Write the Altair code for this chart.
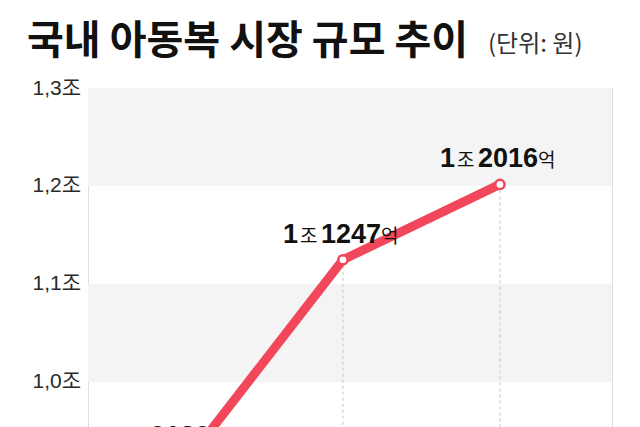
import pandas as pd
import altair as alt

# ------------------------------
#   DATA (단위: 조 원)
# ------------------------------
years = [2015, 2016, 2017]
market = [0.918, 1.1247, 1.2016]
label_jo = ["", "1", "1"]          # 조 part
label_jo_unit = ["", "조", "조"]
label_eok = ["9180", "1247", "2016"]  # 억 part

band_lo = [1.0, 1.2]
band_hi = [1.1, 1.3]
y_ticks = [1.0, 1.1, 1.2, 1.3]

RED = "#f2475a"
KR = "Noto Sans CJK KR"
NUM = "Liberation Sans, Noto Sans CJK KR"

W = 524
H = 339

df = pd.DataFrame({
    "year": years,
    "value": market,
    "jo": label_jo,
    "jo_unit": label_jo_unit,
    "eok": label_eok,
})
bands_df = pd.DataFrame({"lo": band_lo, "hi": band_hi})

yscale = alt.Scale(domain=[0.954, 1.3], nice=False, zero=False)
xscale = alt.Scale(domain=[2014.376, 2017.714], nice=False, zero=False)

yaxis = alt.Axis(
    values=y_ticks,
    title=None,
    grid=False,
    domain=False,
    ticks=False,
    labelAlign="left",
    labelBaseline="middle",
    labelPadding=56,
    labelFont=NUM,
    labelFontSize=21,
    labelColor="#2a2a2a",
    labelExpr="replace(format(datum.value, '.1f'), '.', ',') + '조'",
)

# grey bands
bands = (
    alt.Chart(bands_df)
    .mark_rect(color="#f4f4f4")
    .encode(
        y=alt.Y("lo:Q", scale=yscale, axis=yaxis),
        y2="hi:Q",
        x=alt.value(0),
        x2=alt.value(W),
    )
)

base = alt.Chart(df).encode(
    x=alt.X("year:Q", scale=xscale, axis=None),
    y=alt.Y("value:Q", scale=yscale, axis=yaxis),
)

rules = base.mark_rule(
    color="#c4c4c4", strokeWidth=1, strokeDash=[3, 3], clip=True
).encode(y2=alt.value(H))

line = base.mark_line(
    color=RED, strokeWidth=9, strokeJoin="round", clip=True
)

points = base.mark_point(
    shape="circle", filled=True, fill="white", stroke=RED,
    strokeWidth=2.5, size=85, opacity=1, clip=True
)

# value labels: 1 조 2016 억 (mixed sizes)
top = base.transform_filter("datum.jo != ''")
low = base.transform_filter("datum.jo == ''")

t_jo = top.mark_text(
    align="right", baseline="alphabetic", dx=-45, dy=-17,
    font=NUM, fontSize=27, fontWeight="bold", color="#111111", clip=True
).encode(text="jo:N")
t_jo_unit = top.mark_text(
    align="left", baseline="alphabetic", dx=-43, dy=-17,
    font=KR, fontSize=19, color="#111111", clip=True
).encode(text="jo_unit:N")
t_eok = top.mark_text(
    align="left", baseline="alphabetic", dx=-22, dy=-17,
    font=NUM, fontSize=27, fontWeight="bold", color="#111111", clip=True
).encode(text="eok:N")
t_eok_unit = top.mark_text(
    align="left", baseline="alphabetic", dx=38, dy=-17,
    font=KR, fontSize=19, color="#111111", clip=True
).encode(text=alt.value("억"))

t_low = low.mark_text(
    align="left", baseline="alphabetic", dx=-36, dy=-17,
    font=NUM, fontSize=27, fontWeight="bold", color="#111111", clip=True
).encode(text="eok:N")
t_low_unit = low.mark_text(
    align="left", baseline="alphabetic", dx=26, dy=-17,
    font=KR, fontSize=19, color="#111111", clip=True
).encode(text=alt.value("억"))

# unit note next to title
unit = (
    alt.Chart(pd.DataFrame({"t": ["(단위: 원)"]}))
    .mark_text(align="left", baseline="alphabetic", font=KR, fontSize=24, color="#333333")
    .encode(text="t:N", x=alt.value(400), y=alt.value(-36))
)

chart = (
    alt.layer(
        bands, rules, line, points,
        t_jo, t_jo_unit, t_eok, t_eok_unit, t_low, t_low_unit, unit,
    )
    .properties(
        width=W,
        height=H,
        title=alt.Title(
            "국내 아동복 시장 규모 추이",
            anchor="start",
            dx=-5,
            dy=49,
            offset=20,
            font=KR,
            fontSize=40,
            fontWeight="bold",
            color="#111111",
        ),
        autosize=alt.AutoSizeParams(type="none"),
        padding={"left": 80, "top": 80, "right": 20, "bottom": 0},
    )
    .configure_view(strokeWidth=0)
    .configure(background="white")
)

chart.save("out.html", embed_options={"renderer": "svg", "actions": False})
